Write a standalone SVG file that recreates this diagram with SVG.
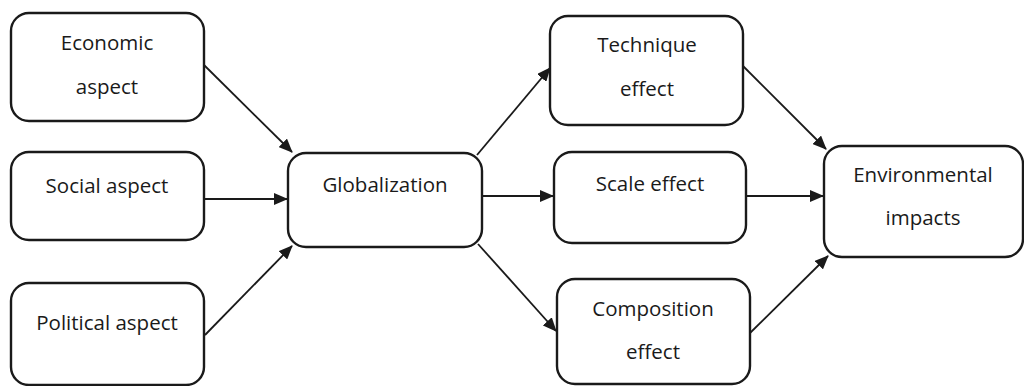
<svg xmlns="http://www.w3.org/2000/svg" width="1024" height="386" viewBox="0 0 1024 386">
<defs>
<marker id="ah" markerWidth="14" markerHeight="12" refX="13" refY="6" orient="auto" markerUnits="userSpaceOnUse">
<path d="M0,0 L14,6 L0,12 z" fill="#1a1a1a"/>
</marker>
</defs>
<style>
.box{fill:#fff;stroke:#1a1a1a;stroke-width:2.4}
.t{font-family:"Open Sans","Liberation Sans",sans-serif;font-size:20.5px;fill:#1a1a1a;text-anchor:middle}
.c{stroke:#1a1a1a;stroke-width:1.8;fill:none;marker-end:url(#ah)}
</style>
<rect width="1024" height="386" fill="#fff"/>
<g id="economic"><rect class="box" x="11" y="13" width="193" height="108" rx="18"/><text class="t" x="107" y="50">Economic</text><text class="t" x="107" y="94">aspect</text></g>
<g id="social"><rect class="box" x="11" y="152" width="193" height="88" rx="18"/><text class="t" x="107" y="193">Social aspect</text></g>
<g id="political"><rect class="box" x="11" y="283" width="193" height="102" rx="18"/><text class="t" x="107" y="330">Political aspect</text></g>
<g id="globalization"><rect class="box" x="288" y="153" width="194" height="94" rx="18"/><text class="t" x="385" y="192">Globalization</text></g>
<g id="technique"><rect class="box" x="550" y="16" width="193" height="109" rx="18"/><text class="t" x="647" y="52">Technique</text><text class="t" x="647" y="96">effect</text></g>
<g id="scale"><rect class="box" x="554" y="152" width="192" height="91" rx="18"/><text class="t" x="650" y="191">Scale effect</text></g>
<g id="composition"><rect class="box" x="557" y="279" width="193" height="105" rx="18"/><text class="t" x="653" y="316">Composition</text><text class="t" x="653" y="359">effect</text></g>
<g id="environmental"><rect class="box" x="824" y="146" width="199" height="111" rx="18"/><text class="t" x="923" y="182">Environmental</text><text class="t" x="923" y="225">impacts</text></g>
<g id="connectors">
<line class="c" x1="204" y1="65" x2="292" y2="152"/>
<line class="c" x1="204" y1="199" x2="287" y2="199"/>
<line class="c" x1="205" y1="335" x2="292" y2="246"/>
<line class="c" x1="477" y1="155" x2="550" y2="68"/>
<line class="c" x1="482" y1="196" x2="553" y2="196"/>
<line class="c" x1="478" y1="244" x2="556" y2="331"/>
<line class="c" x1="743" y1="66" x2="826" y2="149"/>
<line class="c" x1="746" y1="196" x2="823" y2="196"/>
<line class="c" x1="750" y1="333" x2="828" y2="256"/>
</g>
</svg>
